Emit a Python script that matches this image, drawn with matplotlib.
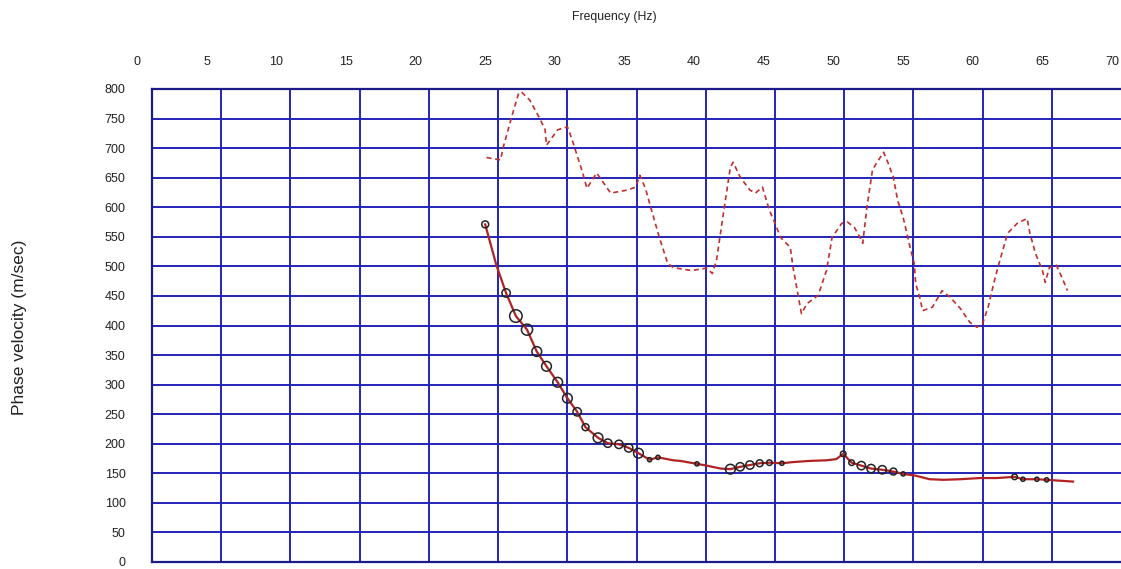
import numpy as np
import matplotlib
matplotlib.use("Agg")
import matplotlib.pyplot as plt
from matplotlib.transforms import blended_transform_factory

plt.rcParams["font.family"] = ["Liberation Sans", "DejaVu Sans"]

# dashed curve (upper)
dash_f = [25.1, 26.1, 26.3, 26.9, 27.4, 27.6, 28.2, 28.9, 29.3, 29.4, 30.2, 30.9,
          31.2, 32.0, 32.3, 33.0, 33.5, 34.0, 35.2, 35.8, 36.1, 36.5, 37.0, 37.5,
          38.1, 38.5, 39.8, 40.9, 41.3, 41.6, 42.1, 42.6, 42.8, 43.3, 44.0, 44.4,
          44.9, 45.4, 45.8, 46.2, 46.9, 47.1, 47.4, 47.7, 48.1, 48.9, 49.5, 49.9,
          50.6, 51.0, 51.5, 51.9, 52.1, 52.4, 52.8, 53.1, 53.6, 53.9, 54.3, 54.6,
          55.0, 55.5, 55.8, 55.9, 56.2, 56.4, 57.1, 57.8, 58.4, 59.1, 59.8, 60.3,
          60.7, 61.1, 61.5, 61.8, 62.5, 63.2, 63.9, 64.1, 64.5, 65.0, 65.2, 65.5,
          66.0, 66.4, 66.8]
dash_v = [684, 680, 702, 753, 793, 795, 781, 751, 731, 705, 731, 736,
          717, 658, 632, 658, 641, 624, 629, 634, 654, 632, 590, 549,
          505, 498, 493, 497, 488, 510, 590, 668, 676, 651, 629, 624,
          634, 595, 573, 549, 532, 498, 459, 420, 437, 451, 493, 549,
          573, 575, 566, 549, 539, 600, 663, 675, 693, 676, 651, 612,
          583, 532, 505, 471, 447, 425, 431, 459, 447, 429, 405, 397,
          403, 431, 471, 498, 556, 573, 581, 556, 522, 493, 473, 498,
          502, 481, 459]

# solid curve with rings (lower)
disp_f = [25.0, 25.8, 26.5, 27.2, 28.0, 28.7, 29.4, 30.2, 30.9, 31.6, 32.2, 33.1,
          33.8, 34.6, 35.3, 36.0, 36.8, 37.4, 38.5, 39.0, 40.2, 40.9, 41.9, 42.6,
          43.3, 44.0, 44.7, 45.4, 46.3, 47.1, 48.3, 49.5, 50.2, 50.7, 51.3, 52.0,
          52.7, 53.5, 54.3, 55.0, 55.9, 56.9, 57.9, 59.1, 60.5, 61.7, 63.0, 63.6,
          64.6, 65.3, 67.2]
disp_v = [571, 502, 455, 416, 393, 356, 331, 304, 277, 254, 228, 210,
          201, 199, 193, 184, 173, 177, 172, 171, 166, 163, 158, 157,
          161, 164, 167, 168, 167, 169, 171, 172, 174, 183, 168, 163,
          158, 156, 153, 149, 146, 140, 139, 140, 142, 142, 144, 140,
          140, 139, 136]
ring = [5, 0, 6, 9, 8, 7, 7, 7, 7, 6, 5, 7,
        6, 6, 6, 7, 3, 3, 0, 0, 3, 0, 0, 7,
        6, 6, 5, 4, 3, 0, 0, 0, 0, 4, 4, 6,
        6, 6, 5, 3, 0, 0, 0, 0, 0, 0, 4, 3,
        3, 3, 0]

x_ticks = list(range(0, 75, 5))
y_ticks = list(range(0, 850, 50))

W, H = 1121, 569
fig = plt.figure(figsize=(W / 100, H / 100), dpi=100)
ax = fig.add_axes([152 / W, 1 - 562 / H, (W - 152) / W, (562 - 89) / H])

xlim = (1.08, 70.64)
ax.set_xlim(*xlim)
ax.set_ylim(0, 800)

grid_c = "#2222b8"
for gx in np.linspace(xlim[0], xlim[1], 15)[1:-1]:
    ax.axvline(gx, color=grid_c, lw=1.4, zorder=1)
for gy in y_ticks[1:-1]:
    ax.axhline(gy, color=grid_c, lw=1.4, zorder=1)

for s in ["left", "top", "bottom"]:
    ax.spines[s].set_color("#1c1c88")
    ax.spines[s].set_linewidth(1.6)
ax.spines["right"].set_visible(False)

ax.plot(dash_f, dash_v, color="#c02f2f", lw=1.2, ls=(0, (3, 2.2)), zorder=3)
ax.plot(disp_f, disp_v, color="#b32222", lw=1.6, zorder=3)
f = np.array(disp_f); v = np.array(disp_v); r = np.array(ring, dtype=float)
m = r > 0
ax.scatter(f[m], v[m], s=r[m] ** 2, facecolors="none", edgecolors="#222222",
           linewidths=1.1, zorder=4)

ax.set_xticks([])
ax.set_yticks(y_ticks)
ax.set_yticklabels([str(t) for t in y_ticks], fontsize=9, color="#222222")
ax.tick_params(axis="y", length=0, pad=19)

tr = blended_transform_factory(ax.transData, ax.transAxes)
for t in x_ticks:
    ax.text(t, 1.057, str(t), transform=tr, ha="center", va="center",
            fontsize=9, color="#222222", clip_on=False)

fig.text(614 / W, 1 - 17 / H, "Frequency (Hz)", ha="center", va="center",
         fontsize=8.8, color="#222222")
fig.text(20 / W, 1 - 327 / H, "Phase velocity (m/sec)", ha="center", va="center",
         rotation=90, fontsize=12.5, color="#222222")

fig.savefig("out.png", dpi=100, facecolor="white")
